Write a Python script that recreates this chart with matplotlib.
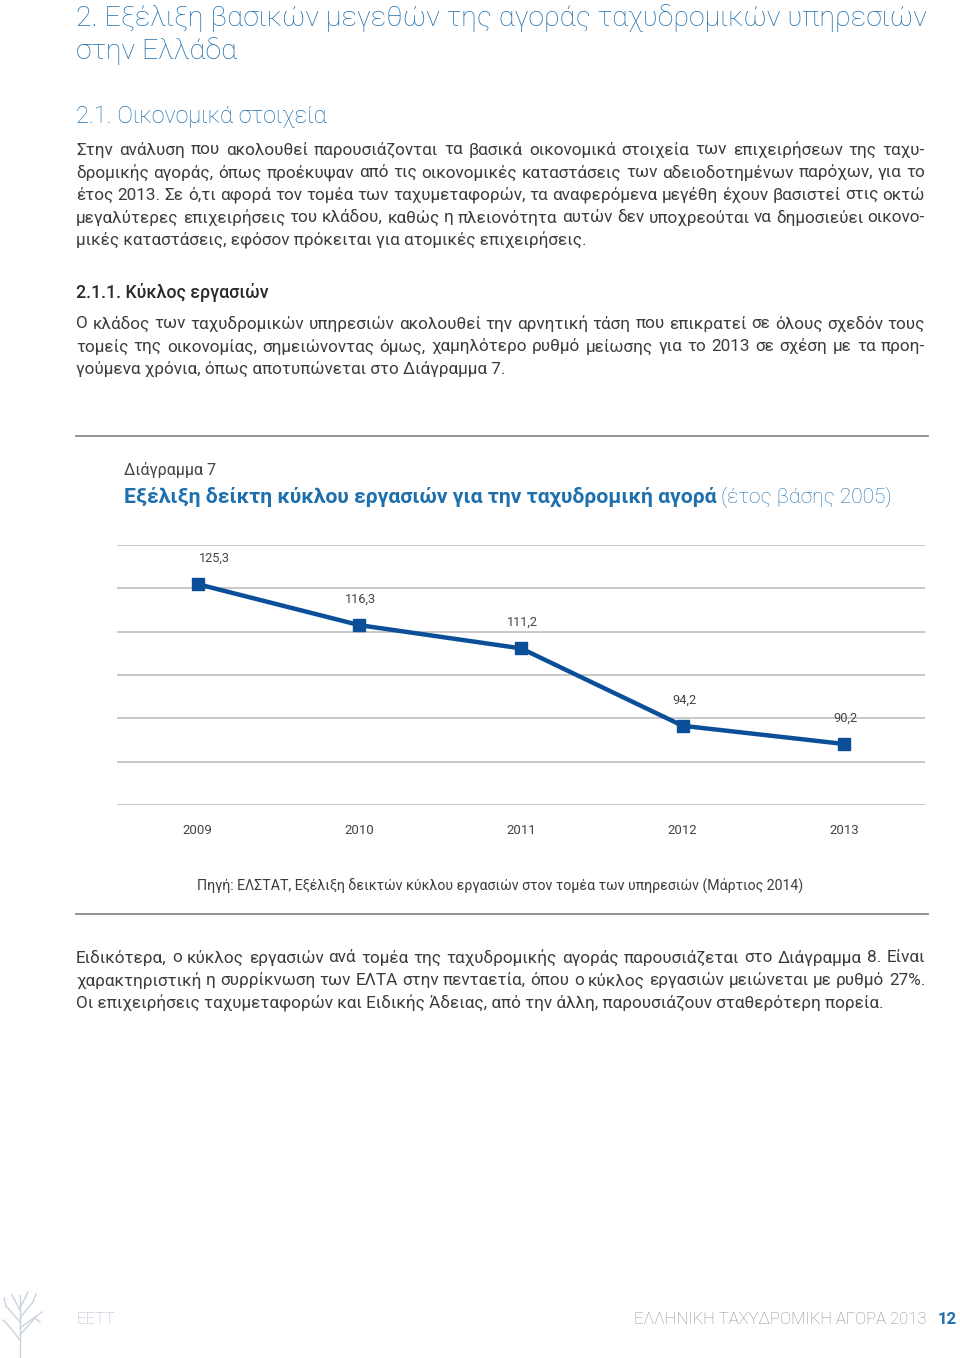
import matplotlib
matplotlib.use("Agg")
import matplotlib.pyplot as plt
import numpy as np

# ---------------- data ----------------
years = ["2009", "2010", "2011", "2012", "2013"]
index_values = [125.3, 116.3, 111.2, 94.2, 90.2]
value_labels = ["125,3", "116,3", "111,2", "94,2", "90,2"]

page_title = ["2. Εξέλιξη βασικών μεγεθών της αγοράς ταχυδρομικών υπηρεσιών",
              "στην Ελλάδα"]
section_title = "2.1. Οικονομικά στοιχεία"
para1 = [
    "Στην ανάλυση που ακολουθεί παρουσιάζονται τα βασικά οικονομικά στοιχεία των επιχειρήσεων της ταχυ-",
    "δρομικής αγοράς, όπως προέκυψαν από τις οικονομικές καταστάσεις των αδειοδοτημένων παρόχων, για το",
    "έτος 2013. Σε ό,τι αφορά τον τομέα των ταχυμεταφορών, τα αναφερόμενα μεγέθη έχουν βασιστεί στις οκτώ",
    "μεγαλύτερες επιχειρήσεις του κλάδου, καθώς η πλειονότητα αυτών δεν υποχρεούται να δημοσιεύει οικονο-",
    "μικές καταστάσεις, εφόσον πρόκειται για ατομικές επιχειρήσεις.",
]
subsection_title = "2.1.1. Κύκλος εργασιών"
para2 = [
    "Ο κλάδος των ταχυδρομικών υπηρεσιών ακολουθεί την αρνητική τάση που επικρατεί σε όλους σχεδόν τους",
    "τομείς της οικονομίας, σημειώνοντας όμως, χαμηλότερο ρυθμό μείωσης για το 2013 σε σχέση με τα προη-",
    "γούμενα χρόνια, όπως αποτυπώνεται στο Διάγραμμα 7.",
]
chart_label = "Διάγραμμα 7"
chart_title_bold = "Εξέλιξη δείκτη κύκλου εργασιών για την ταχυδρομική αγορά"
chart_title_light = " (έτος βάσης 2005)"
source_text = "Πηγή: ΕΛΣΤΑΤ, Εξέλιξη δεικτών κύκλου εργασιών στον τομέα των υπηρεσιών (Μάρτιος 2014)"
para3 = [
    "Ειδικότερα, ο κύκλος εργασιών ανά τομέα της ταχυδρομικής αγοράς παρουσιάζεται στο Διάγραμμα 8. Είναι",
    "χαρακτηριστική η συρρίκνωση των ΕΛΤΑ στην πενταετία, όπου ο κύκλος εργασιών μειώνεται με ρυθμό 27%.",
    "Οι επιχειρήσεις ταχυμεταφορών και Ειδικής Άδειας, από την άλλη, παρουσιάζουν σταθερότερη πορεία.",
]
footer_left = "EETT"
footer_right = "ΕΛΛΗΝΙΚΗ ΤΑΧΥΔΡΟΜΙΚΗ ΑΓΟΡΑ 2013"
page_number = "12"

# ---------------- styles ----------------
W, H = 960, 1358
FONT = ["Roboto", "DejaVu Sans"]
BLUE = "#1d6fae"
DARKBLUE = "#0b4f98"
TEXT = "#3c3c3c"
GRID = "#c4c4c4"

plt.rcParams["font.family"] = FONT
fig = plt.figure(figsize=(W / 100, H / 100), dpi=100)
fig.patch.set_facecolor("white")
renderer = fig.canvas.get_renderer()


def fx(px):
    return px / W


def fy(py):
    return 1 - py / H


def put(x, y, s, **kw):
    return fig.text(fx(x), fy(y), s, va="center", **kw)


def justify(lines, y0, dy, x0, x1, **kw):
    for i, line in enumerate(lines):
        y = y0 + i * dy
        last = i == len(lines) - 1
        if last:
            put(x0, y, line, ha="left", **kw)
            continue
        words = line.split(" ")
        objs = [put(x0, y, w, ha="left", **kw) for w in words]
        widths = [o.get_window_extent(renderer).width for o in objs]
        total = sum(widths)
        gap = (x1 - x0 - total) / max(len(words) - 1, 1)
        x = x0
        for o, w in zip(objs, widths):
            o.set_x(fx(x))
            x += w + gap


LX, RX = 76, 925
BODY = dict(fontsize=12.3, color=TEXT, fontweight="normal")
# page title
for i, line in enumerate(page_title):
    put(LX, 18 + i * 33, line, ha="left", fontsize=20.5, color=BLUE, fontweight="light")
put(LX, 116, section_title, ha="left", fontsize=16.8, color=BLUE, fontweight="light")
justify(para1, 150, 22.5, LX, RX, **BODY)
put(LX, 293, subsection_title, ha="left", fontsize=12.8, color="#2a2a2a", fontweight="medium")
justify(para2, 324, 22.5, LX, RX, **BODY)

# chart frame lines
fig.add_artist(plt.Line2D([fx(76), fx(928)], [fy(436), fy(436)], color="#8a8a8a", lw=1.3))
fig.add_artist(plt.Line2D([fx(76), fx(928)], [fy(914), fy(914)], color="#8a8a8a", lw=1.3))

put(124, 470, chart_label, ha="left", fontsize=11.5, color="#444444", fontweight="normal")
tb = put(124, 497, chart_title_bold, ha="left", fontsize=15.2, color=BLUE, fontweight="bold")
bw = tb.get_window_extent(renderer).width
put(124 + bw, 497, chart_title_light, ha="left", fontsize=15.0, color=BLUE, fontweight="light")

# ---------------- chart ----------------
ax = fig.add_axes([fx(117), fy(805), fx(925) - fx(117), (805 - 545) / H])
x = np.arange(len(years))
ymin, ymax = 76.8, 133.9
ax.set_xlim(-0.5, len(years) - 0.5)
ax.set_ylim(ymin, ymax)
for g in np.linspace(ymin, ymax, 7):
    ax.axhline(g, color=GRID, lw=1.3, zorder=0)
ax.plot(x, index_values, color=DARKBLUE, lw=3.2, marker="s", markersize=9,
        markerfacecolor=DARKBLUE, markeredgecolor=DARKBLUE, zorder=3)
for i, (v, lab) in enumerate(zip(index_values, value_labels)):
    dx = 12 if i == 0 else 1
    ax.annotate(lab, (i, v), xytext=(dx, 18.5), textcoords="offset points",
                ha="center", va="center", fontsize=9.2, color="#444444", fontweight="normal")
ax.set_xticks(x)
ax.set_xticklabels(years)
ax.tick_params(axis="x", length=0, pad=14, labelsize=9.5, labelcolor="#444444")
ax.set_yticks([])
for s in ax.spines.values():
    s.set_visible(False)
ax.patch.set_alpha(0)

put(500, 885, source_text, ha="center", fontsize=10.2, color="#3c3c3c", fontweight="normal")

justify(para3, 958, 22.5, LX, RX, **BODY)

# ---------------- footer ----------------
put(76, 1320, footer_left, ha="left", fontsize=12, color="#a9b8cc", fontweight="light")
put(927, 1320, footer_right, ha="right", fontsize=12, color="#8a8a8a", fontweight="light")
put(938, 1320, page_number, ha="left", fontsize=12, color=BLUE, fontweight="bold")

# simple decorative tree mark
tree = "#c9d3e0"
segs = [((20, 1358), (20, 1295)), ((20, 1340), (8, 1325)), ((20, 1335), (35, 1318)),
        ((20, 1322), (6, 1306)), ((20, 1318), (33, 1302)), ((20, 1310), (12, 1295)),
        ((20, 1308), (28, 1292)), ((8, 1325), (3, 1320)), ((35, 1318), (40, 1322)),
        ((6, 1306), (4, 1298)), ((33, 1302), (36, 1294)), ((20, 1328), (42, 1312))]
for (a, b) in segs:
    fig.add_artist(plt.Line2D([fx(a[0]), fx(b[0])], [fy(a[1]), fy(b[1])], color=tree, lw=1))

fig.savefig("out.png", dpi=100, facecolor="white")
